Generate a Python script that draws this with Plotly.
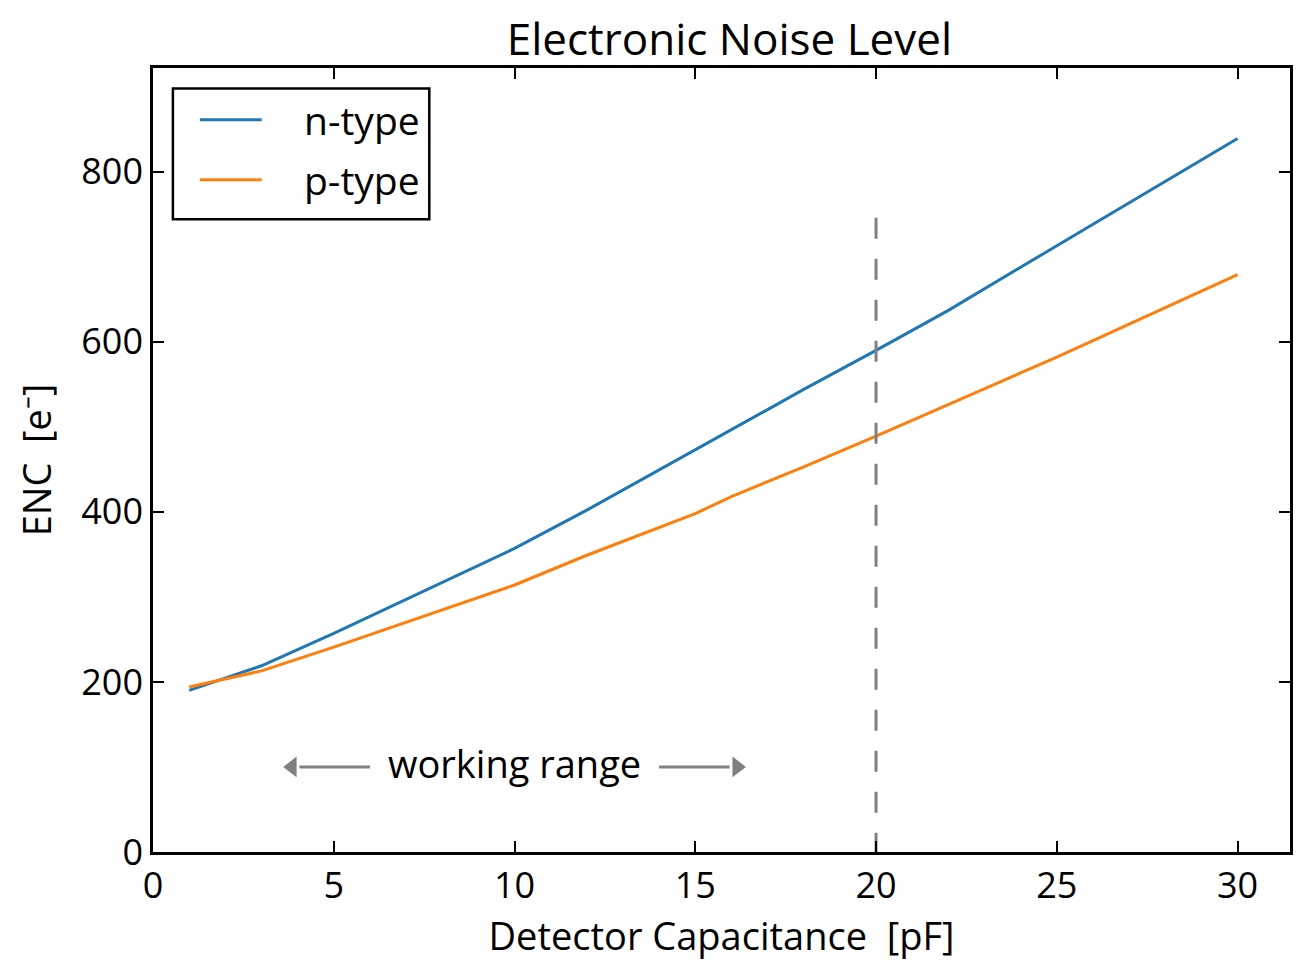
import plotly.graph_objects as go

# Data
n_x = [1, 3, 5, 10, 12, 15, 18, 20, 22, 25, 30]
n_y = [190, 219, 257, 357, 402, 473, 544, 590, 637, 713, 839]
p_x = [1, 3, 5, 10, 12, 15, 16, 18, 20, 22, 25, 30]
p_y = [194, 213, 241, 314, 349, 398, 418, 453, 489, 526, 582, 679]
series_names = ["n-type", "p-type"]
series_colors = ["#1f77b4", "#ff7f0e"]

x_ticks = [0, 5, 10, 15, 20, 25, 30]
y_ticks = [0, 200, 400, 600, 800]

limit_x = 20          # dashed marker position (pF)
limit_top = 746       # dashed marker height
range_y = 100         # height of "working range" annotation
left_arrow = [6.0, 3.6]     # tail, tip
right_arrow = [14.0, 16.4]  # tail, tip

FONT = "Open Sans"
GRAY = "#808080"
X_MAX, Y_MAX = 31.45, 922

fig = go.Figure()
for xs, ys, nm, col in [(n_x, n_y, series_names[0], series_colors[0]),
                        (p_x, p_y, series_names[1], series_colors[1])]:
    fig.add_trace(go.Scatter(x=xs, y=ys, mode="lines", name=nm, showlegend=False,
                             line=dict(color=col, width=3)))

# vertical dashed line (drawn top-down so the pattern starts at the top)
fig.add_trace(go.Scatter(x=[limit_x, limit_x], y=[limit_top, 0], mode="lines",
                         showlegend=False, hoverinfo="skip",
                         line=dict(color=GRAY, width=3, dash="21px,20px")))

# working range arrows (line + triangle head)
head = 0.45  # head length in x units
for tail, tip, sym in [(left_arrow[0], left_arrow[1], "triangle-left"),
                       (right_arrow[0], right_arrow[1], "triangle-right")]:
    d = 1 if tip > tail else -1
    fig.add_trace(go.Scatter(x=[tail, tip - d * head], y=[range_y, range_y],
                             mode="lines", showlegend=False, hoverinfo="skip",
                             line=dict(color=GRAY, width=3)))
    fig.add_trace(go.Scatter(x=[tip - d * head * 0.55], y=[range_y], mode="markers",
                             showlegend=False, hoverinfo="skip",
                             marker=dict(symbol=sym, size=18, color=GRAY,
                                         line=dict(width=0))))
fig.add_annotation(x=(left_arrow[0] + right_arrow[0]) / 2, y=range_y + 5,
                   xref="x", yref="y", text="working range", showarrow=False,
                   font=dict(family=FONT, size=38, color="black"))

# hand-drawn legend box (matplotlib style)
fig.add_shape(type="rect", xref="paper", yref="paper",
              x0=0.0175, x1=0.243, y0=0.807, y1=0.974,
              line=dict(color="black", width=2.5), fillcolor="white", layer="above")
for i, (nm, col) in enumerate(zip(series_names, series_colors)):
    yy = 0.934 - i * 0.0765
    fig.add_shape(type="line", xref="paper", yref="paper",
                  x0=0.0412, x1=0.0956, y0=yy, y1=yy,
                  line=dict(color=col, width=3), layer="above")
    fig.add_annotation(x=0.131, y=yy, xref="paper", yref="paper", text=nm,
                       showarrow=False, xanchor="left", yanchor="middle",
                       font=dict(family=FONT, size=39, color="black"))

axis_common = dict(showline=True, linecolor="black", linewidth=2.5, mirror="ticks",
                   ticks="inside", ticklen=11, tickwidth=2, tickcolor="black",
                   showgrid=False, zeroline=False,
                   tickfont=dict(family=FONT, size=36, color="black"))

fig.update_layout(
    width=1297, height=954,
    margin=dict(l=145, r=12, t=60, b=110),
    paper_bgcolor="white", plot_bgcolor="white",
    title=dict(text="Electronic Noise Level", x=0.507, xanchor="center", xref="paper",
               y=0.9665, yanchor="middle",
               font=dict(family=FONT, size=44, color="black")),
    xaxis=dict(range=[0, X_MAX], tickvals=x_ticks,
               title=dict(text="Detector Capacitance  [pF]", standoff=14,
                          font=dict(family=FONT, size=38, color="black")),
               **axis_common),
    yaxis=dict(range=[0, Y_MAX], tickvals=y_ticks,
               title=dict(text="ENC  [e⁻]", standoff=18,
                          font=dict(family=FONT, size=38, color="black")),
               **axis_common),
    showlegend=False,
)

fig.write_html("out.html")
